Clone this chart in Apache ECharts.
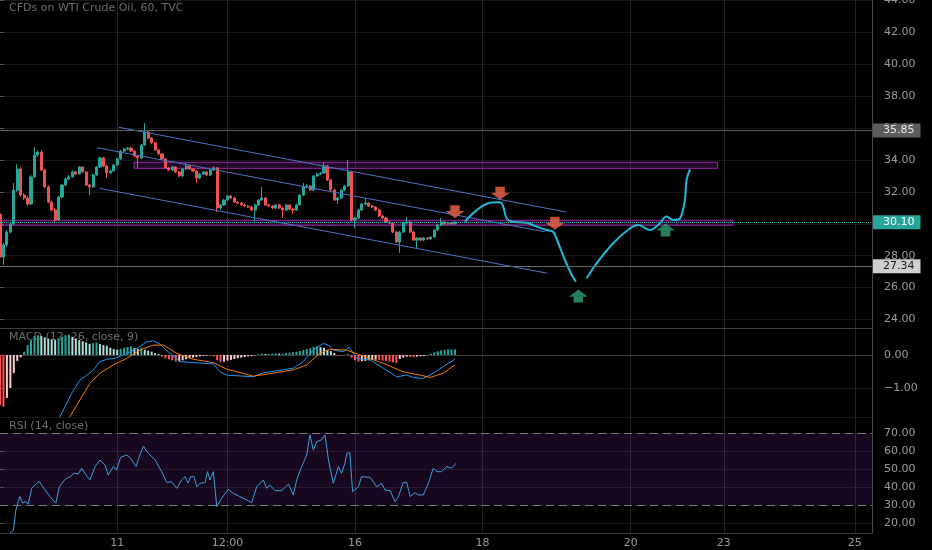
<!DOCTYPE html>
<html><head><meta charset="utf-8">
<script src="https://cdn.jsdelivr.net/npm/echarts@6/dist/echarts.min.js"></script>
<style>html,body{margin:0;padding:0;background:#000;}#c{width:932px;height:550px;}</style>
</head><body><div id="c"></div>
<script>
// ---------- data ----------
const slotCount = 254;
const tickIndex = [34, 66, 103, 140, 183, 210, 248];
const tickText = ['11', '12:00', '16', '18', '20', '23', '25'];

// [open, close, low, high] hourly candles
const ohlc = [
[30.61,27.92,27.60,30.70],[27.92,28.67,27.42,28.80],[28.67,29.48,28.55,29.61],[29.48,29.99,29.40,30.11],
[29.99,32.12,29.92,32.56],[32.12,33.44,32.00,33.75],[33.44,31.80,31.70,33.56],[31.80,31.62,31.49,31.90],
[31.62,31.24,31.11,31.75],[31.24,32.94,31.18,33.06],[32.94,34.31,32.90,34.81],[34.31,34.50,34.20,34.60],
[34.50,33.37,33.30,34.63],[33.37,32.31,32.24,33.44],[32.31,31.36,31.30,32.40],[31.36,30.86,30.80,31.45],
[30.86,30.24,30.11,30.99],[30.24,31.68,30.17,31.75],[31.68,32.43,31.60,32.50],[32.43,32.81,32.35,32.90],
[32.81,32.94,32.75,33.05],[32.94,33.25,32.90,33.35],[33.25,33.12,33.05,33.31],[33.12,33.56,33.10,33.62],
[33.56,33.25,33.19,33.62],[33.25,32.43,32.37,33.31],[32.43,32.31,31.80,32.50],[32.31,33.06,32.25,33.12],
[33.06,33.56,33.00,33.62],[33.56,34.13,33.50,34.19],[34.13,33.62,33.56,34.19],[33.62,33.19,32.87,33.69],
[33.19,33.31,33.12,33.40],[33.31,33.69,33.25,33.75],[33.69,34.06,33.62,34.13],[34.06,34.56,34.00,34.63],
[34.56,34.69,34.50,34.75],[34.69,34.75,34.60,34.81],[34.75,34.56,34.50,34.81],[34.56,34.25,34.19,34.60],
[34.25,34.13,33.50,34.30],[34.13,34.94,34.06,35.00],[34.94,35.75,34.90,36.32],[35.75,35.38,35.31,35.81],
[35.38,35.07,35.00,35.44],[35.07,34.63,34.56,35.13],[34.63,34.38,34.31,34.69],[34.38,34.06,34.00,34.44],
[34.06,33.50,33.44,34.13],[33.50,33.37,33.31,33.56],[33.37,33.56,33.31,33.62],[33.56,33.25,33.19,33.62],
[33.25,33.00,32.94,33.31],[33.00,33.44,32.94,33.50],[33.44,33.62,33.37,33.81],[33.62,33.44,33.37,33.69],
[33.44,33.31,33.25,33.50],[33.31,32.87,32.56,33.37],[32.87,33.12,32.81,33.19],[33.12,33.25,33.06,33.31],
[33.25,33.06,33.00,33.31],[33.06,33.37,33.00,33.44],[33.37,33.50,33.31,33.62],[33.50,30.99,30.74,33.56],
[30.99,31.18,30.86,31.25],[31.18,31.49,31.12,31.55],[31.49,31.74,31.43,31.80],[31.74,31.62,31.55,31.80],
[31.62,31.36,31.30,31.68],[31.36,31.30,31.24,31.43],[31.30,31.18,31.12,31.36],[31.18,31.11,31.05,31.25],
[31.11,31.05,30.99,31.18],[31.05,30.86,30.80,31.11],[30.86,31.18,30.05,31.25],[31.18,31.49,31.12,31.55],
[31.49,31.62,31.43,32.31],[31.62,31.18,31.12,31.68],[31.18,31.11,31.05,31.25],[31.11,30.99,30.92,31.18],
[30.99,31.18,30.92,31.25],[31.18,30.99,30.92,31.25],[30.99,30.86,30.36,31.05],[30.86,31.18,30.80,31.25],
[31.18,30.92,30.86,31.25],[30.92,30.86,30.61,30.99],[30.86,31.18,30.80,31.25],[31.18,31.80,31.12,31.87],
[31.80,32.31,31.74,32.56],[32.31,32.37,32.24,32.50],[32.37,32.12,32.05,32.43],[32.12,33.00,32.05,33.06],
[33.00,33.12,32.94,33.19],[33.12,33.19,33.06,33.25],[33.19,33.62,33.12,33.87],[33.62,32.75,32.68,33.69],
[32.75,32.12,32.05,32.81],[32.12,31.49,31.43,32.18],[31.49,31.62,31.24,31.68],[31.62,32.12,31.55,32.18],
[32.12,32.37,32.05,32.43],[32.37,33.25,32.31,34.00],[33.25,30.24,30.11,33.31],[30.24,30.36,29.74,30.43],
[30.36,30.86,30.30,30.92],[30.86,31.24,30.80,31.30],[31.24,31.30,31.18,31.62],[31.30,31.11,31.05,31.36],
[31.11,31.05,30.99,31.18],[31.05,30.86,30.80,31.11],[30.86,30.49,30.43,30.92],[30.49,30.36,30.30,30.55],
[30.36,30.11,30.05,30.43],[30.11,30.05,29.99,30.17],[30.05,29.48,29.42,30.11],[29.48,28.86,28.80,29.55],
[28.86,29.48,28.17,29.55],[29.48,30.05,29.42,30.11],[30.05,30.11,29.99,30.42],[30.11,29.48,29.42,30.17],
[29.48,28.98,28.92,29.55],[28.98,29.11,28.48,29.17],[29.11,28.98,28.92,29.17],[28.98,29.11,28.92,29.17],
[29.11,29.05,28.99,29.17],[29.05,29.17,28.99,29.23],[29.17,29.61,29.11,29.67],[29.61,29.92,29.55,29.99],
[29.92,30.11,29.86,30.36],[30.11,29.99,29.92,30.17],[29.99,30.05,29.92,30.11],[30.05,29.99,29.92,30.11],
[29.99,30.10,29.95,30.17]
];

// price tags / levels
const levelHigh = 35.85;
const levelLow = 27.34;
const lastPrice = 30.10;
const countdown = '19:17';
const countdownLevel = 29.45;

// drawings: [slot index, price]
const channelUpper = [[34.5, 36.05], [164.2, 30.74]];
const channelMiddle = [[28.1, 34.77], [158.1, 29.50]];
const channelLower = [[29.0, 32.22], [158.8, 26.90]];
const zoneUpper = [[38.9, 33.86], [208.2, 33.48]];
const zoneLower = [[0, 30.22], [212.7, 29.91]];
const projection = [
[134.9,30.13],[138.3,30.86],[142.2,31.32],[145.1,31.35],[146.0,31.07],[147.0,30.34],[148.5,30.13],
[152.8,30.07],[155.7,29.82],[158.6,29.61],[160.5,29.50],[162.0,28.78],[163.9,27.73],[165.9,26.79],[167.1,26.37],
null,
[170.2,26.58],[173.1,27.52],[177.9,28.78],[182.8,29.72],[185.2,29.92],[188.6,29.61],[191.0,29.92],
[193.4,30.45],[195.4,30.24],[197.3,30.34],[198.7,31.49],[199.2,32.75],[200.2,33.42]
];
const sellArrows = [[132.0, 30.76], [145.1, 31.91], [161.0, 30.03]];
const buyArrows = [[167.8, 25.47], [193.1, 29.61]];

// MACD (12, 26, close, 9)
const macdHist = [
-1.52,-1.57,-1.30,-1.00,-0.55,-0.18,-0.07,0.10,0.30,0.45,0.57,0.60,0.57,0.53,0.50,0.47,0.45,0.50,0.55,0.60,
0.62,0.55,0.50,0.45,0.42,0.38,0.34,0.36,0.38,0.33,0.30,0.28,0.22,0.18,0.16,0.19,0.22,0.24,0.26,0.21,
0.18,0.22,0.16,0.13,0.10,0.06,0.03,-0.05,-0.10,-0.13,-0.16,-0.20,-0.19,-0.16,-0.13,-0.10,-0.08,-0.06,-0.04,-0.03,
-0.02,-0.02,-0.04,-0.16,-0.22,-0.20,-0.17,-0.15,-0.12,-0.10,-0.08,-0.06,-0.04,-0.03,-0.01,0.02,0.04,0.03,0.03,0.04,
0.05,0.04,0.04,0.06,0.07,0.08,0.10,0.12,0.15,0.18,0.20,0.25,0.27,0.24,0.22,0.16,0.12,0.06,-0.02,-0.02,
0.01,0.03,-0.08,-0.16,-0.20,-0.19,-0.18,-0.16,-0.15,-0.14,-0.15,-0.17,-0.18,-0.20,-0.22,-0.24,-0.12,-0.08,-0.05,-0.06,
-0.07,-0.05,-0.04,-0.03,-0.01,0.04,0.08,0.11,0.14,0.16,0.17,0.17,0.17
];
const macdLine = [
[0,-4.6],[6,-3.9],[12,-2.9],[17.4,-1.87],[20.8,-1.16],[23.2,-0.76],[25.2,-0.61],[27.1,-0.45],[29,-0.2],[31,-0.13],
[33.4,-0.1],[36.8,0.05],[39.7,0.2],[42.6,0.4],[44.5,0.43],[46.4,0.33],[49.3,0.05],[52.2,-0.2],[56.1,-0.23],[61.9,-0.27],
[63.8,-0.51],[65.8,-0.61],[73.5,-0.66],[76.4,-0.54],[85.1,-0.4],[88,-0.2],[90.9,0.15],[93.8,0.35],[95.3,0.3],[96.7,0.15],
[99.6,0.1],[101.3,0.23],[102.5,0.05],[103.5,-0.1],[107.4,-0.15],[111.2,-0.4],[115.1,-0.66],[118,-0.61],[119.9,-0.68],
[122.8,-0.71],[125.7,-0.55],[128.6,-0.35],[132,-0.13]
];
const signalLine = [
[0,-3.6],[8,-3.2],[14,-2.6],[20.3,-1.87],[23.2,-1.36],[26.1,-0.86],[29,-0.55],[32.9,-0.3],[36.8,-0.1],[40.6,0.15],
[44.5,0.3],[47.4,0.3],[51.3,0.05],[56.1,-0.13],[61.9,-0.23],[65.8,-0.43],[73.5,-0.64],[77.4,-0.58],[85.1,-0.45],[89,-0.3],
[92.8,0.05],[95.7,0.17],[100.6,0.15],[104.5,0.0],[111.2,-0.25],[117,-0.51],[121.9,-0.61],[124.8,-0.68],[128.6,-0.55],[132,-0.3]
];

// RSI (14, close)
const rsiLine = [
[2.9,14.2],[3.9,16],[4.6,27.2],[5.3,31.9],[5.8,34.7],[6.6,31],[7.3,32],[8.2,30.6],[9.2,39.3],[10.6,42.1],[11.4,43],
[13.1,38.4],[14.5,34.7],[16.2,31],[17.2,40.2],[18.9,44.3],[20.3,45.8],[21.5,47.7],[22.7,47.3],[23.7,50.5],[25,46.7],
[26.1,44],[27.6,51.4],[29,55.1],[30.5,52.3],[31.4,46.7],[32.9,51.4],[33.8,49.5],[35,56.6],[36.8,57.9],[37.7,56.6],
[39.5,51.4],[40.4,57],[41.6,62.9],[42.6,59.8],[45,55.1],[46.9,48.6],[48.4,42.5],[49.8,43],[51.3,39.3],[52.7,44],
[53.7,45.8],[54.6,42.1],[55.3,45.8],[56.3,45.8],[57.1,40.2],[58,42.1],[59.5,42.5],[60.2,48.6],[60.9,44],[61.9,48.6],
[62.9,29.1],[64.3,33.7],[66.2,38.7],[67.7,36.5],[69.6,34.7],[71.6,32.8],[73,31.3],[74.5,40.2],[76.4,44],[77.4,39.3],
[78.3,41.2],[79.8,38],[81.7,38],[83.7,41.7],[85.1,35.6],[86.1,44],[87.5,51.4],[89,57.9],[89.9,69.1],[90.9,60.7],
[91.9,65.3],[93.3,66.3],[94.3,69.1],[95.3,55.1],[96.7,42.1],[98.2,51.4],[99.1,47.7],[100.1,53.3],[100.6,58.8],[101.5,59.2],
[102.3,37.4],[104,40.2],[104.9,45.8],[107.4,45.4],[109.3,40.2],[110.7,42.1],[111.7,38.4],[113.2,38],[114.6,31.9],[115.6,34.7],
[117,42.5],[118,42.6],[119,34.7],[120.4,36.9],[121.4,35.6],[122.8,35.6],[124.3,42.1],[125.7,50.5],[126.7,48.6],[128.1,48.6],
[129.6,51.4],[131,50.5],[132.3,53.3]
];
const rsiUpper = 70, rsiLower = 30;

// ---------- chart ----------
const slots = Array.from({length: slotCount}, (_, i) => 's' + i);
const isTick = i => tickIndex.indexOf(i) >= 0;
const fmt = step => v => {
  const r = Math.round(v / step) * step;
  if (Math.abs(v - r) > 1e-6) return '';
  return (r < 0 ? '\u2212' : '') + Math.abs(r).toFixed(2);
};
const histColor = macdHist.map((v, i) => {
  const p = i > 0 ? macdHist[i - 1] : v;
  return v >= 0 ? (v >= p ? '#26a69a' : '#b2dfdb') : (v <= p ? '#ff5252' : '#ffcdd2');
});

const FONT = 'DejaVu Sans';
const gridBase = {left: 0, right: 60, containLabel: false, outerBoundsMode: 'none'};
const hiddenCat = (gi, showLine) => ({
  type: 'category', gridIndex: gi, data: slots, boundaryGap: false,
  axisLine: {show: showLine, lineStyle: {color: '#3c3c3c'}}, axisTick: {show: false},
  axisLabel: {show: false}, splitLine: {show: false}
});
const hiddenVal = gi => ({type: 'value', gridIndex: gi, min: 0, max: slotCount - 1, show: false,
  axisLine: {show: false}, splitLine: {show: false}});
const priceAxis = (gi, min, max, step, splitNumber) => ({
  type: 'value', gridIndex: gi, position: 'right', min, max,
  minInterval: step, maxInterval: step, splitNumber, scale: true,
  axisLine: {show: false},
  axisTick: {show: true, length: 4, lineStyle: {color: '#555'}},
  axisLabel: {color: '#9a9a9a', fontSize: 11, fontFamily: FONT, margin: 12,
    showMinLabel: false, showMaxLabel: false, formatter: fmt(step)},
  splitLine: {show: true, lineStyle: {color: '#161616', width: 1}}
});
const tag = (bg, fg, dist) => ({
  show: true, position: 'end', distance: dist, backgroundColor: bg, color: fg,
  fontSize: 11, fontFamily: FONT, padding: [2, 6, 1, 10], borderRadius: 0
});

const option = {
  animation: false,
  backgroundColor: '#000',
  textStyle: {fontFamily: FONT},
  title: [
    {text: 'CFDs on WTI Crude Oil, 60, TVC', left: 9, top: 3, padding: 0, z: 0,
      textStyle: {color: '#6e6e6e', fontSize: 11, fontWeight: 'normal', fontFamily: FONT}},
    {text: 'MACD (12, 26, close, 9)', left: 9, top: 332, padding: 0, z: 0,
      textStyle: {color: '#6e6e6e', fontSize: 11, fontWeight: 'normal', fontFamily: FONT}},
    {text: 'RSI (14, close)', left: 9, top: 421, padding: 0, z: 0,
      textStyle: {color: '#6e6e6e', fontSize: 11, fontWeight: 'normal', fontFamily: FONT}}
  ],
  grid: [
    Object.assign({top: 0, bottom: 17}, gridBase),
    Object.assign({top: 0, height: 328}, gridBase),
    Object.assign({top: 328, height: 89}, gridBase),
    Object.assign({top: 417, height: 116}, gridBase)
  ],
  xAxis: [
    {type: 'category', gridIndex: 0, data: slots, boundaryGap: false,
      axisLine: {show: true, lineStyle: {color: '#3c3c3c'}}, axisTick: {show: false},
      axisLabel: {interval: isTick, formatter: (v, i) => tickText[tickIndex.indexOf(i)] || '',
        color: '#9a9a9a', fontSize: 11, fontFamily: FONT, margin: 5},
      splitLine: {show: true, interval: isTick, lineStyle: {color: '#222222', width: 1}}},
    hiddenCat(1, true),
    hiddenVal(1),
    hiddenCat(2, true),
    hiddenVal(2),
    hiddenVal(3)
  ],
  yAxis: [
    {type: 'value', gridIndex: 0, position: 'right', min: 0, max: 1,
      axisLine: {show: true, lineStyle: {color: '#4a4a4a'}}, axisTick: {show: false},
      axisLabel: {show: false}, splitLine: {show: false}},
    priceAxis(1, 23.467, 44.031, 2, 11),
    priceAxis(2, -1.879, 0.818, 1, 3),
    priceAxis(3, 14.38, 79.09, 10, 7)
  ],
  series: [
    {type: 'candlestick', xAxisIndex: 1, yAxisIndex: 1, data: ohlc, barWidth: 2.6,
      itemStyle: {color: '#26a69a', color0: '#ef5350', borderColor: '#26a69a', borderColor0: '#ef5350', borderWidth: 1},
      markLine: {silent: true, symbol: 'none', animation: false, data: [
        {yAxis: levelHigh, lineStyle: {color: '#5e5e5e', width: 1, type: 'solid'},
          label: Object.assign(tag('#5d5d5d', '#e8e8e8', 1), {formatter: levelHigh.toFixed(2)})},
        {yAxis: levelLow, lineStyle: {color: '#6a6a6a', width: 1, type: 'solid'},
          label: Object.assign(tag('#cfcfcf', '#161616', 1), {formatter: levelLow.toFixed(2)})},
        {yAxis: lastPrice, lineStyle: {color: '#26a69a', width: 1, type: 'dotted'},
          label: Object.assign(tag('#26a69a', '#ffffff', 1), {formatter: lastPrice.toFixed(2)})},
        {yAxis: countdownLevel, lineStyle: {opacity: 0},
          label: Object.assign(tag('#26a69a', '#ffffff', 6), {formatter: countdown, padding: [2, 6, 1, 4]})}
      ]}},
    {type: 'line', xAxisIndex: 2, yAxisIndex: 1, data: channelUpper, symbol: 'none',
      lineStyle: {color: '#4f74c8', width: 1}, z: 3,
      markArea: {silent: true, itemStyle: {color: 'rgba(156,39,176,0.22)', borderColor: '#9c27b0', borderWidth: 1},
        data: [[{coord: zoneUpper[0]}, {coord: zoneUpper[1]}], [{coord: zoneLower[0]}, {coord: zoneLower[1]}]]}},
    {type: 'line', xAxisIndex: 2, yAxisIndex: 1, data: channelMiddle, symbol: 'none',
      lineStyle: {color: '#4f74c8', width: 1}, z: 3},
    {type: 'line', xAxisIndex: 2, yAxisIndex: 1, data: channelLower, symbol: 'none',
      lineStyle: {color: '#4f74c8', width: 1}, z: 3},
    {type: 'line', xAxisIndex: 2, yAxisIndex: 1, data: projection, symbol: 'none', smooth: 0.35,
      connectNulls: false, lineStyle: {color: '#22b8d8', width: 2}, z: 4},
    {type: 'scatter', xAxisIndex: 2, yAxisIndex: 1, data: sellArrows, z: 5,
      symbol: 'path://M3,0H9V5H12L6,11L0,5H3Z', symbolSize: [19, 13],
      itemStyle: {color: '#f0654a'}},
    {type: 'scatter', xAxisIndex: 2, yAxisIndex: 1, data: buyArrows, z: 5,
      symbol: 'path://M6,0L12,6H9V11H3V6H0Z', symbolSize: [19, 13],
      itemStyle: {color: '#2e9f70'}},
    {type: 'bar', xAxisIndex: 3, yAxisIndex: 2, data: macdHist, barWidth: 2,
      itemStyle: {color: p => histColor[p.dataIndex]}},
    {type: 'line', xAxisIndex: 4, yAxisIndex: 2, data: macdLine, symbol: 'none',
      lineStyle: {color: '#2196f3', width: 1}},
    {type: 'line', xAxisIndex: 4, yAxisIndex: 2, data: signalLine, symbol: 'none',
      lineStyle: {color: '#f57c00', width: 1}},
    {type: 'line', xAxisIndex: 5, yAxisIndex: 3, data: rsiLine, symbol: 'none',
      lineStyle: {color: '#3f9fd8', width: 1}, z: 3,
      markArea: {silent: true, itemStyle: {color: 'rgba(140,50,200,0.16)'},
        data: [[{yAxis: rsiLower}, {yAxis: rsiUpper}]]},
      markLine: {silent: true, symbol: 'none', label: {show: false},
        lineStyle: {color: '#7a7a7a', width: 1, type: [8, 5]},
        data: [{yAxis: rsiUpper}, {yAxis: rsiLower}]}}
  ]
};
const chart = echarts.init(document.getElementById('c'));
chart.setOption(option);
</script>
</body></html>
